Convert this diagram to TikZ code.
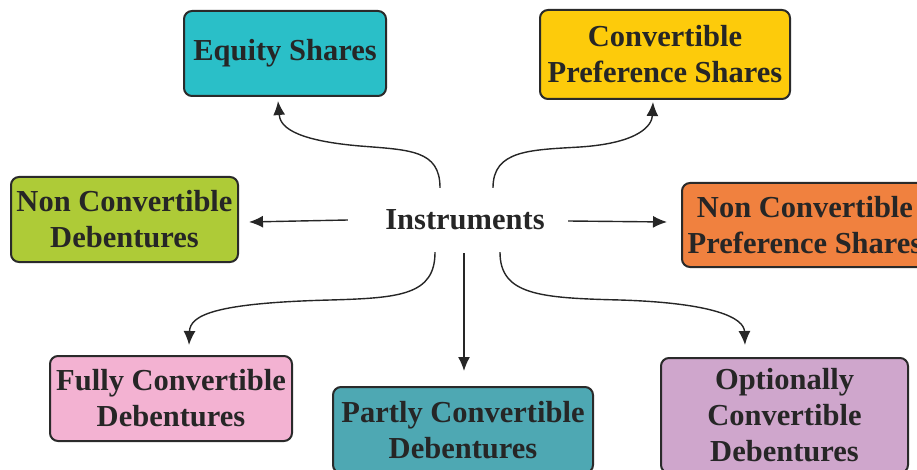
\documentclass[tikz,border=0pt]{standalone}
\usepackage{fontspec}
\setmainfont{Liberation Serif}
\usepackage{tikz}
\usetikzlibrary{arrows.meta}
\definecolor{inktext}{HTML}{262626}
\definecolor{inkline}{HTML}{2A2A2A}
\definecolor{eqcyan}{HTML}{2ABFC8}
\definecolor{cpsyellow}{HTML}{FDCB0B}
\definecolor{ncdgreen}{HTML}{AECB37}
\definecolor{ncpsorange}{HTML}{F0813F}
\definecolor{fcdpink}{HTML}{F3B2D2}
\definecolor{pcdteal}{HTML}{4EA8B3}
\definecolor{ocdpurple}{HTML}{CFA6CC}
\begin{document}
\begin{tikzpicture}[x=1pt,y=-1pt,
	instbox/.style={draw=inkline,line width=2pt,rounded corners=8pt,align=center,text=inktext,inner sep=0pt,font=\bfseries\fontsize{30.5}{36}\selectfont},
	link/.style={draw=inktext,line width=1.4pt,-{Latex[length=14pt,width=12pt]}}]
	\useasboundingbox (0,0) rectangle (917,470);
	\clip (0,0) rectangle (917,470);
	% centre
	\node[text=inktext,font=\bfseries\fontsize{30.5}{36}\selectfont,minimum width=234pt,minimum height=64pt,inner sep=0pt] (ins) at (465,220) {Instruments};
	% boxes
	\node[instbox,fill=eqcyan,minimum width=202pt,minimum height=85pt] (eq) at (285,53.5) {Equity Shares};
	\node[instbox,fill=cpsyellow,minimum width=250pt,minimum height=89pt] (cps) at (665,54.5) {Convertible\\Preference Shares};
	\node[instbox,fill=ncdgreen,minimum width=227pt,minimum height=85pt] (ncd) at (124.5,219.5) {Non Convertible\\Debentures};
	\node[instbox,fill=ncpsorange,minimum width=246pt,minimum height=84pt] (ncps) at (805,225) {Non Convertible\\Preference Shares};
	\node[instbox,fill=fcdpink,minimum width=242pt,minimum height=85pt] (fcd) at (171,398.5) {Fully Convertible\\Debentures};
	\node[instbox,fill=pcdteal,minimum width=260pt,minimum height=86pt] (pcd) at (463,430) {Partly Convertible\\Debentures};
	\node[instbox,fill=ocdpurple,minimum width=247pt,minimum height=115pt] (ocd) at (784.5,415.5) {Optionally\\Convertible\\Debentures};
	% links
	\draw[link] ([xshift=-25pt]ins.north) .. controls (440,150) and (410,150) .. (360,146) .. controls (290,140) and (280,125) .. ([shift={(-7,4)}]eq.south);
	\draw[link] ([xshift=28pt]ins.north) .. controls (493,150) and (530,150) .. (580,147) .. controls (640,143) and (652,125) .. ([shift={(-12,2)}]cps.south);
	\draw[link] (ins.west) -- ([shift={(10,2.5)}]ncd.east);
	\draw[link] ([shift={(-14,1)}]ins.east) -- ([shift={(-14,-3)}]ncps.west);
	\draw[link] ([xshift=-30pt]ins.south) .. controls (435,295) and (400,298) .. (330,300) .. controls (215,303) and (190,315) .. ([shift={(18,-10)}]fcd.north);
	\draw[link] ([shift={(-1,1)}]ins.south) -- ([shift={(1,-15)}]pcd.north);
	\draw[link] ([xshift=35pt]ins.south) .. controls (500,295) and (540,298) .. (620,300) .. controls (715,303) and (744,318) .. ([shift={(-39.5,-12)}]ocd.north);
\end{tikzpicture}
\end{document}
